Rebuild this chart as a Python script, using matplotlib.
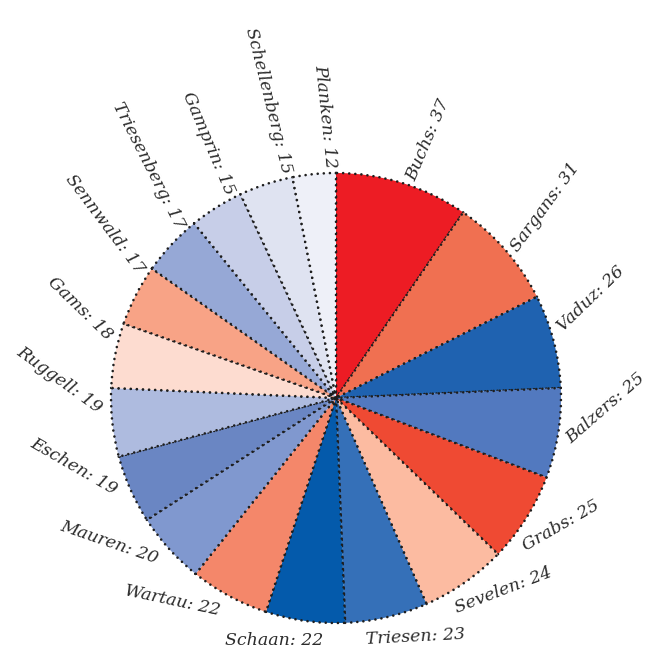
import matplotlib.pyplot as plt
import numpy as np

# villages and counts, clockwise from 12 o'clock
names = ["Buchs", "Sargans", "Vaduz", "Balzers", "Grabs", "Sevelen", "Triesen",
         "Schaan", "Wartau", "Mauren", "Eschen", "Ruggell", "Gams", "Sennwald",
         "Triesenberg", "Gamprin", "Schellenberg", "Planken"]
counts = [37, 31, 26, 25, 25, 24, 23, 22, 22, 20, 19, 19, 18, 17, 17, 15, 15, 12]
colors = ["#ed1c24", "#f07051", "#1f62b0", "#5279bf", "#ef4a33", "#fcbba1",
          "#3570b8", "#045aab", "#f4876a", "#8098cf", "#6a86c3", "#aebbdf",
          "#fddcd0", "#f8a386", "#96a8d6", "#c7cee8", "#dfe3f1", "#eef0f8"]
# label tilt and angular nudge (degrees), as seen in the original
label_rot = [67, 54, 44, 41, 30, 21, 3, 0, -12, -19, -30, -36, -44, -53,
             -63, -67, -76, -84]
label_nudge = [3, 2.5, -1.5, 2, 6.5, 5.5, 6, -5, 0, -0.5, 0.5, 2.5, 3, 4.5,
               3.5, 3.5, 4.5, 3]

W, H = 650, 659
cx, cy, R = 336, 398, 225

fig = plt.figure(figsize=(W / 100, H / 100), dpi=100)
ax = fig.add_axes([0, 0, 1, 1])

wedges, _ = ax.pie(counts, colors=colors, startangle=90, counterclock=False,
                   radius=1,
                   wedgeprops=dict(edgecolor="#1e1e1e", linewidth=1.9,
                                   linestyle=(0, (0.01, 2.3))))
for w in wedges:
    w.set_capstyle("round")

total = sum(counts)
t0 = 0.0
for name, v, rot, nudge in zip(names, counts, label_rot, label_nudge):
    span = v / total * 360
    t = t0 + span / 2 + nudge      # clockwise from top
    t0 += span
    r = 1.02 + 0.08 * (1 - np.cos(np.deg2rad(t))) / 2
    a = np.deg2rad(90 - t)
    x, y = r * np.cos(a), r * np.sin(a)
    ha = "left" if t < 180 else "right"
    ax.text(x, y, f"{name}: {v}", rotation=rot, rotation_mode="anchor",
            ha=ha, va="baseline", fontsize=12.5, style="italic",
            family="DejaVu Serif", color="#2b2b2b")

ax.set_xlim(-cx / R, (W - cx) / R)
ax.set_ylim(-(H - cy) / R, cy / R)
ax.axis("off")

fig.savefig("out.png", dpi=100)
